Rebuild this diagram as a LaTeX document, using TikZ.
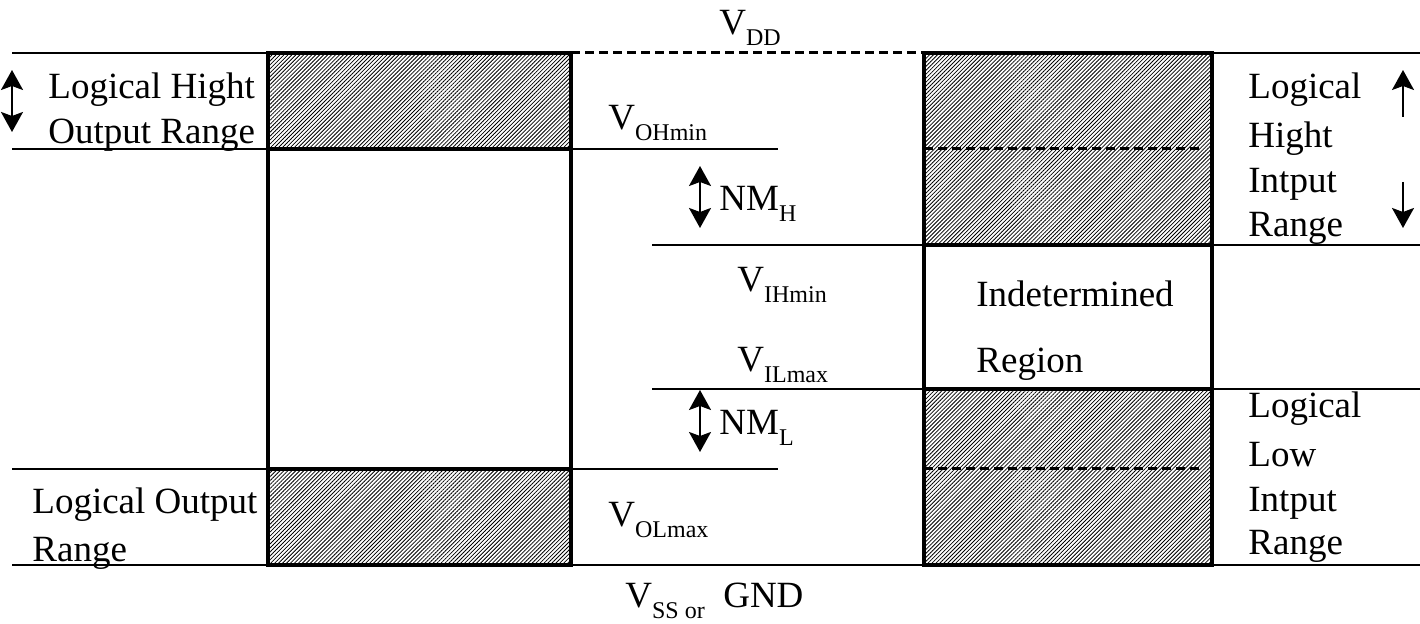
\documentclass[tikz,border=0pt]{standalone}
\usepackage{fontspec}
\setmainfont{Liberation Serif}
\usetikzlibrary{arrows.meta,patterns.meta}
\newcommand{\lsub}[1]{\raisebox{-5.5pt}{\fontsize{12}{14}\selectfont #1}}

\begin{document}
\begin{tikzpicture}[x=0.5pt,y=-0.5pt,font=\fontsize{18.5}{22}\selectfont,
  lvl/.style={line width=1.4pt},
  edge/.style={line width=2pt},
  dsh/.style={line width=1.5pt,dash pattern=on 4.5pt off 2.5pt},
  hatch/.style={pattern={Lines[angle=45,distance=1.4pt,line width=0.4pt]}},
  lbl/.style={anchor=base west,inner sep=0pt},
  dbl/.style={{Stealth[length=10pt,width=11pt,inset=2pt]}-{Stealth[length=10pt,width=11pt,inset=2pt]},line width=1pt},
  sgl/.style={-{Stealth[length=10pt,width=11pt,inset=2pt]},line width=1pt}]

\useasboundingbox (0,0) rectangle (1420,624);

% hatched bands
\fill[hatch] (268,53) rectangle (571,149);
\fill[hatch] (268,469) rectangle (571,565);
\fill[hatch] (924,53) rectangle (1212,245);
\fill[hatch] (924,389) rectangle (1212,565);

% voltage levels
\draw[lvl] (12,53) -- (268,53) (1212,53) -- (1420,53);
\draw[dsh] (571,53) -- (924,53);
\draw[lvl] (12,149) -- (778,149);
\draw[dsh] (924,149) -- (1202,149);
\draw[lvl] (652,245) -- (1420,245);
\draw[lvl] (652,389) -- (1420,389);
\draw[lvl] (12,469) -- (778,469);
\draw[dsh] (924,469) -- (1202,469);
\draw[lvl] (12,565) -- (1420,565);

% output and input columns
\draw[edge] (268,53) rectangle (571,565);
\draw[edge] (268,149) -- (571,149) (268,469) -- (571,469);
\draw[edge] (924,53) rectangle (1212,565);
\draw[edge] (924,245) -- (1212,245) (924,389) -- (1212,389);

\node[lbl] (vdd) at (719,35) {V\lsub{DD}};
\node[lbl] (vohmin) at (608,130) {V\lsub{OHmin}};
\node[lbl] (nmh) at (719,211) {NM\lsub{H}};
\node[lbl] (vihmin) at (737,292) {V\lsub{IHmin}};
\node[lbl] (vilmax) at (737,372) {V\lsub{ILmax}};
\node[lbl] (nml) at (719,435) {NM\lsub{L}};
\node[lbl] (volmax) at (608,527) {V\lsub{OLmax}};
\node[lbl] (vss) at (625,608) {V\lsub{SS or}~ GND};

\node[lbl] (indet) at (976,307) {Indetermined};
\node[lbl] (region) at (976,373) {Region};

\node[lbl] (ohi1) at (48,99) {Logical Hight};
\node[lbl] (ohi2) at (48,144) {Output Range};
\node[lbl] (olo1) at (32,514) {Logical Output};
\node[lbl] (olo2) at (32,562) {Range};

\node[lbl] (ihi1) at (1248,99) {Logical};
\node[lbl] (ihi2) at (1248,148) {Hight};
\node[lbl] (ihi3) at (1248,193) {Intput};
\node[lbl] (ihi4) at (1248,237) {Range};
\node[lbl] (ilo1) at (1248,418) {Logical};
\node[lbl] (ilo2) at (1248,467) {Low};
\node[lbl] (ilo3) at (1248,512) {Intput};
\node[lbl] (ilo4) at (1248,555) {Range};

% range arrows
\coordinate (ohT) at (12,70);  \coordinate (ohB) at (12,132);
\coordinate (nhT) at (700,166); \coordinate (nhB) at (700,228);
\coordinate (nlT) at (700,390); \coordinate (nlB) at (700,452);
\coordinate (ihT) at (1403,70); \coordinate (ihM) at (1403,117);
\coordinate (ilM) at (1403,182); \coordinate (ilB) at (1403,228);
\draw[dbl] (ohT) -- (ohB);
\draw[dbl] (nhT) -- (nhB);
\draw[dbl] (nlT) -- (nlB);
\draw[sgl] (ihM) -- (ihT);
\draw[sgl] (ilM) -- (ilB);
\end{tikzpicture}
\end{document}
